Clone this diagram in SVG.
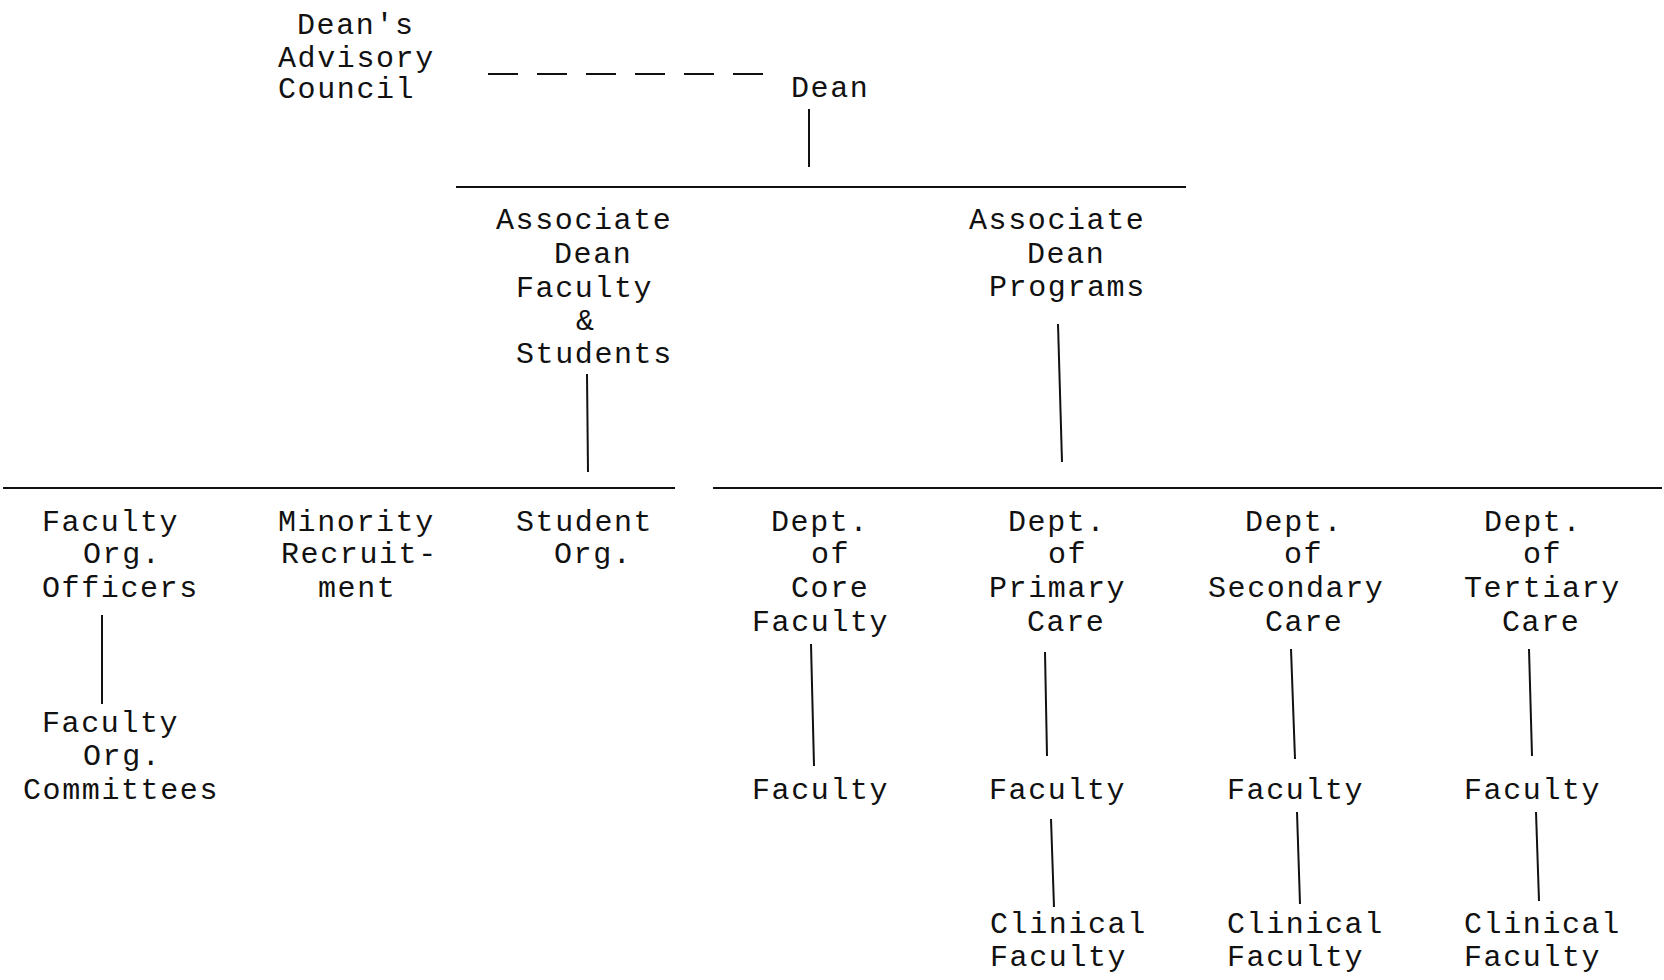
<svg xmlns="http://www.w3.org/2000/svg" width="1664" height="980" viewBox="0 0 1664 980">
<style>
text{font-family:"Liberation Mono","Courier New",monospace;font-size:30px;letter-spacing:1.6px;fill:#111;}
.c{stroke:#111;stroke-width:2;fill:none;}
.d{stroke-dasharray:30 19;}
</style>
<rect width="1664" height="980" fill="#fff"/>
<g id="connectors">
<line class="c d" x1="488" y1="74" x2="768" y2="74"/>
<line class="c" x1="809" y1="109" x2="809" y2="167"/>
<line class="c" x1="456" y1="187" x2="1186" y2="187"/>
<line class="c" x1="587" y1="374" x2="588" y2="472"/>
<line class="c" x1="1058" y1="324" x2="1062" y2="462"/>
<line class="c" x1="3" y1="488" x2="675" y2="488"/>
<line class="c" x1="713" y1="488" x2="1662" y2="488"/>
<line class="c" x1="102" y1="615" x2="102" y2="704"/>
<line class="c" x1="811" y1="644" x2="814" y2="766"/>
<line class="c" x1="1045" y1="652" x2="1047" y2="756"/>
<line class="c" x1="1291" y1="649" x2="1295" y2="759"/>
<line class="c" x1="1529" y1="649" x2="1532" y2="756"/>
<line class="c" x1="1051" y1="819" x2="1054" y2="907"/>
<line class="c" x1="1297" y1="812" x2="1300" y2="904"/>
<line class="c" x1="1536" y1="812" x2="1539" y2="901"/>
</g>
<g id="advisory-council"><text x="297" y="34">Dean's</text><text x="278" y="67">Advisory</text><text x="278" y="98">Council</text></g>
<g id="dean"><text x="791" y="97">Dean</text></g>
<g id="assoc-dean-fs"><text x="496" y="229">Associate</text><text x="554" y="263">Dean</text><text x="516" y="297">Faculty</text><text x="576" y="330">&amp;</text><text x="516" y="363">Students</text></g>
<g id="assoc-dean-programs"><text x="969" y="229">Associate</text><text x="1027" y="263">Dean</text><text x="989" y="296">Programs</text></g>
<g id="faculty-org-officers"><text x="42" y="531">Faculty</text><text x="83" y="563">Org.</text><text x="42" y="597">Officers</text></g>
<g id="minority-recruitment"><text x="278" y="531">Minority</text><text x="281" y="563">Recruit-</text><text x="318" y="597">ment</text></g>
<g id="student-org"><text x="516" y="531">Student</text><text x="554" y="563">Org.</text></g>
<g id="dept-core"><text x="771" y="531">Dept.</text><text x="811" y="563">of</text><text x="791" y="597">Core</text><text x="752" y="631">Faculty</text></g>
<g id="dept-primary"><text x="1008" y="531">Dept.</text><text x="1048" y="563">of</text><text x="989" y="597">Primary</text><text x="1027" y="631">Care</text></g>
<g id="dept-secondary"><text x="1245" y="531">Dept.</text><text x="1284" y="563">of</text><text x="1208" y="597">Secondary</text><text x="1265" y="631">Care</text></g>
<g id="dept-tertiary"><text x="1484" y="531">Dept.</text><text x="1523" y="563">of</text><text x="1464" y="597">Tertiary</text><text x="1502" y="631">Care</text></g>
<g id="faculty-org-committees"><text x="42" y="732">Faculty</text><text x="83" y="765">Org.</text><text x="23" y="799">Committees</text></g>
<g id="faculty-core"><text x="752" y="799">Faculty</text></g>
<g id="faculty-primary"><text x="989" y="799">Faculty</text></g>
<g id="faculty-secondary"><text x="1227" y="799">Faculty</text></g>
<g id="faculty-tertiary"><text x="1464" y="799">Faculty</text></g>
<g id="clinical-primary"><text x="990" y="933">Clinical</text><text x="990" y="966">Faculty</text></g>
<g id="clinical-secondary"><text x="1227" y="933">Clinical</text><text x="1227" y="966">Faculty</text></g>
<g id="clinical-tertiary"><text x="1464" y="933">Clinical</text><text x="1464" y="966">Faculty</text></g>
</svg>
